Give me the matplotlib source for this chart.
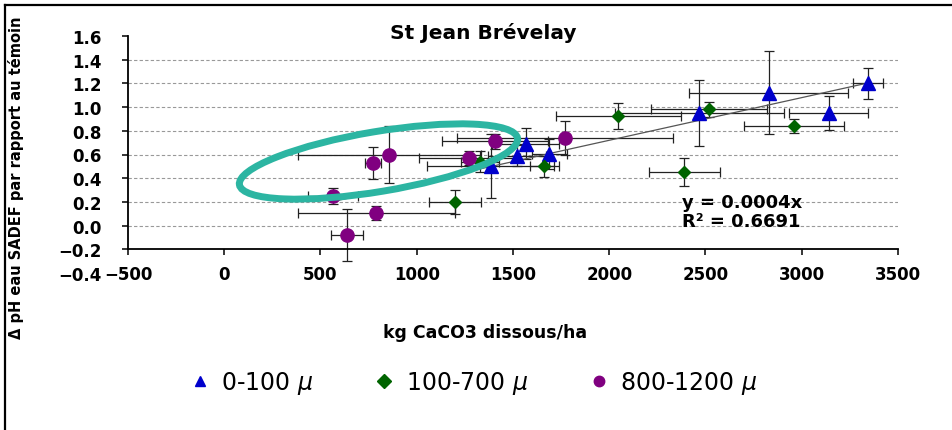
import numpy as np
import matplotlib
matplotlib.use('Agg')
import matplotlib.pyplot as plt
from matplotlib.patches import Ellipse
from matplotlib.lines import Line2D
from matplotlib.transforms import IdentityTransform

# Données
# 0-100 µ
x_fin = [1385, 1519, 1566, 1688, 2468, 2828, 3141, 3344]
y_fin = [0.50, 0.59, 0.69, 0.605, 0.95, 1.12, 0.95, 1.20]
xerr_fin = [330, 150, 175, 90, 440, 413, 205, 78]
yerr_fin = [0.27, 0.09, 0.13, 0.13, 0.28, 0.35, 0.14, 0.13]

# 100-700 µ
x_moy = [1199, 1329, 1663, 2047, 2390, 2518, 2960]
y_moy = [0.20, 0.54, 0.50, 0.925, 0.45, 0.98, 0.84]
xerr_moy = [134, 100, 75, 326, 185, 300, 260]
yerr_moy = [0.10, 0.09, 0.09, 0.11, 0.12, 0.06, 0.06]

# 800-1200 µ
x_gros = [564, 637, 772, 789, 858, 1274, 1407, 1772]
y_gros = [0.25, -0.08, 0.53, 0.105, 0.60, 0.57, 0.71, 0.74]
xerr_gros = [130, 82, 40, 408, 475, 260, 277, 561]
yerr_gros = [0.07, 0.22, 0.135, 0.06, 0.24, 0.06, 0.06, 0.14]

trend_slope = 0.00036  # courbe de tendance (affichée y = 0.0004x)

x_ticks = [-500, 0, 500, 1000, 1500, 2000, 2500, 3000, 3500]
y_ticks = [-0.4, -0.2, 0.0, 0.2, 0.4, 0.6, 0.8, 1.0, 1.2, 1.4, 1.6]

fig = plt.figure(figsize=(9.53, 4.31), dpi=100)
ax = fig.add_axes([128 / 953, 1 - 274 / 431, 770 / 953, 237 / 431])

# axes : l'axe horizontal croise à -0.2
ax.spines['top'].set_visible(False)
ax.spines['right'].set_visible(False)
ax.spines['bottom'].set_position(('data', -0.2))
ax.spines['left'].set_bounds(-0.2, 1.6)
ax.spines['left'].set_linewidth(1.3)
ax.spines['bottom'].set_linewidth(1.3)

# grille horizontale pointillée
for yt in y_ticks[2:-1]:
    ax.axhline(yt, color='#999999', lw=0.8, ls=(0, (3, 2)), zorder=0)

# barres d'erreur
series = [
    (x_fin, y_fin, xerr_fin, yerr_fin, '^', '#0000cc', 10),
    (x_moy, y_moy, xerr_moy, yerr_moy, 'D', '#006400', 6.5),
    (x_gros, y_gros, xerr_gros, yerr_gros, 'o', '#800080', 9.5),
]
for xs, ys, xe, ye, m, c, s in series:
    ax.errorbar(xs, ys, xerr=xe, yerr=ye, fmt='none', ecolor='#222222',
                elinewidth=0.9, capsize=3.5, capthick=0.9, zorder=2)

# courbe de tendance
all_x = np.array(x_fin + x_moy + x_gros)
xl = np.array([all_x.min(), all_x.max()])
ax.plot(xl, trend_slope * xl, color='#555555', lw=0.9, zorder=3)

for xs, ys, xe, ye, m, c, s in series:
    ax.plot(xs, ys, ls='none', marker=m, color=c, markersize=s, zorder=4)

ax.set_xlim(-500, 3500)
ax.set_ylim(-0.4, 1.6)
ax.set_xticks(x_ticks)
ax.set_yticks(y_ticks)
ax.set_yticklabels([f'{v:.1f}'.replace('-', '\u2212') for v in y_ticks],
                   fontweight='bold', fontsize=12)
ax.set_xticklabels([str(v).replace('-', '\u2212') for v in x_ticks],
                   fontweight='bold', fontsize=12)
ax.tick_params(axis='both', direction='out', length=4, width=1.1)
ax.tick_params(axis='x', pad=7)
ax.tick_params(axis='y', pad=15)

ax.text(2378, 0.20, 'y = 0.0004x', fontsize=13, fontweight='bold', va='center')
ax.text(2378, 0.04, 'R\u00b2 = 0.6691', fontsize=13, fontweight='bold', va='center')

fig.text(483 / 953, 1 - 33 / 431, 'St Jean Br\u00e9velay', ha='center', va='center',
         fontsize=14.5, fontweight='bold')
fig.text(485 / 953, 1 - 333 / 431, 'kg CaCO3 dissous/ha', ha='center', va='center',
         fontsize=12.5, fontweight='bold')
fig.text(16 / 953, 1 - 178 / 431, '\u0394 pH eau SADEF par rapport au t\u00e9moin',
         rotation=90, ha='center', va='center', fontsize=10.5, fontweight='bold')

# légende
handles = [Line2D([], [], ls='none', marker=m, color=c, markersize=7.5)
           for (_, _, _, _, m, c, _) in series]
labels = [r'0-100 $\mu$', r'100-700 $\mu$', r'800-1200 $\mu$']
fig.legend(handles, labels, loc='center', bbox_to_anchor=(474 / 953, 1 - 384 / 431),
           ncol=3, frameon=False, fontsize=17, handlelength=0.8, handletextpad=0.5,
           columnspacing=2.6)

# ellipse ajoutée à la main
fig.add_artist(Ellipse((378.5, 431 - 162.5), width=282, height=60, angle=9.5,
                       fill=False, edgecolor='#2cb5a2', lw=5,
                       transform=IdentityTransform(), zorder=5))

# cadre
fig.add_artist(Line2D([5 / 953, 5 / 953], [0, 1 - 6 / 431], color='black', lw=1.6))
fig.add_artist(Line2D([5 / 953, 1], [1 - 6 / 431, 1 - 6 / 431], color='black', lw=1.6))

fig.savefig('out.png', dpi=100)
